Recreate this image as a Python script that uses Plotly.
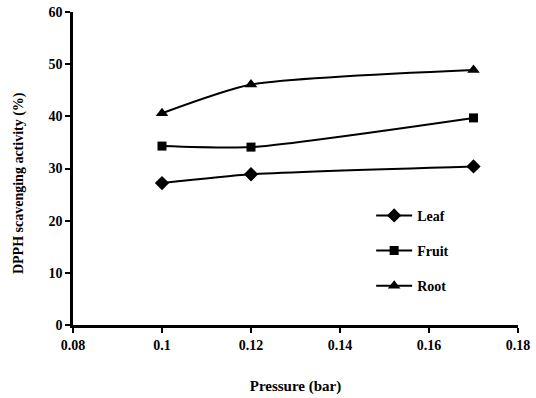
import plotly.graph_objects as go

pressure = [0.10, 0.12, 0.17]
leaf = [27.2, 28.9, 30.4]
fruit = [34.3, 34.1, 39.7]
root = [40.6, 46.1, 48.9]

x_ticks = [0.08, 0.1, 0.12, 0.14, 0.16, 0.18]
x_tick_labels = ["0.08", "0.1", "0.12", "0.14", "0.16", "0.18"]
y_ticks = [0, 10, 20, 30, 40, 50, 60]

font_family = "Liberation Serif"

fig = go.Figure()
series = [("Leaf", leaf, "diamond", 11), ("Fruit", fruit, "square", 9), ("Root", root, "triangle-up", 11)]
for name, vals, sym, sz in series:
    fig.add_trace(go.Scatter(
        x=pressure, y=vals, name=name, mode="lines+markers",
        line=dict(color="black", width=2, shape="spline", smoothing=0.6),
        marker=dict(symbol=sym, size=sz, color="black"),
        legendgroup=name,
    ))

fig.add_annotation(
    text="DPPH scavenging activity (%)", textangle=-90,
    xref="paper", yref="paper", x=-0.121, y=0.454, xanchor="center", yanchor="middle",
    showarrow=False, font=dict(family=font_family, size=14, weight="bold", color="black"),
)

fig.update_layout(
    width=536, height=398,
    margin=dict(l=73, r=18, t=12, b=73),
    plot_bgcolor="white", paper_bgcolor="white",
    font=dict(family=font_family, size=13, color="black"),
    showlegend=True,
    legend=dict(x=0.67, y=0.40, xanchor="left", yanchor="top",
                bgcolor="rgba(0,0,0,0)", tracegroupgap=14,
                font=dict(family=font_family, size=14, color="black", weight="bold"),
                itemwidth=36),
    xaxis=dict(range=[0.08, 0.18], tickvals=x_ticks, ticktext=x_tick_labels, automargin=False,
               showgrid=False, zeroline=False, showline=True, linecolor="black", linewidth=2.5,
               ticks="outside", ticklen=5, tickwidth=2, tickcolor="black",
               tickfont=dict(family=font_family, size=14, weight="bold"),
               title=dict(text="Pressure (bar)", font=dict(family=font_family, size=15, weight="bold"), standoff=29)),
    yaxis=dict(range=[0, 60], tickvals=y_ticks, automargin=False,
               showgrid=False, zeroline=False, showline=True, linecolor="black", linewidth=2.5,
               ticks="outside", ticklen=5, tickwidth=2, tickcolor="black",
               tickfont=dict(family=font_family, size=14, weight="bold")),
)

fig.write_html("out.html", config={"displayModeBar": False},
               post_script="document.body.style.margin='0';")
